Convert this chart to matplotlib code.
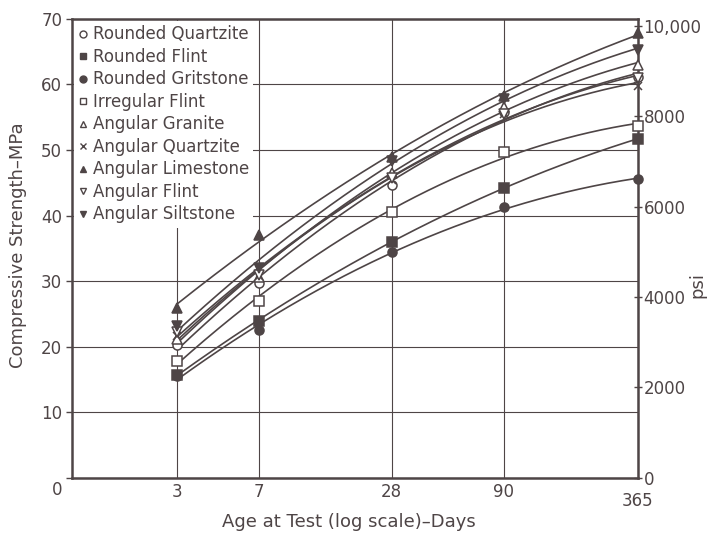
import numpy as np
import matplotlib
matplotlib.use('Agg')
from matplotlib import pyplot
from matplotlib.lines import Line2D

# age at test, days
days = [3, 7, 28, 90, 365]

# compressive strength, MPa
rounded_quartzite = [20.2, 29.7, 44.7, 55.8, 61.2]
rounded_flint = [15.7, 24.0, 36.0, 44.2, 51.7]
rounded_gritstone = [15.5, 22.5, 34.5, 41.3, 45.5]
irregular_flint = [17.9, 26.9, 40.6, 49.7, 53.7]
angular_granite = [21.2, 30.6, 46.5, 56.6, 63.0]
angular_quartzite = [21.7, 30.8, 45.4, 55.5, 59.8]
angular_limestone = [25.9, 37.1, 49.0, 58.3, 67.8]
angular_flint = [22.2, 31.0, 45.8, 55.5, 61.0]
angular_siltstone = [23.1, 32.0, 48.3, 57.8, 65.3]

names = ['Rounded Quartzite', 'Rounded Flint', 'Rounded Gritstone', 'Irregular Flint',
         'Angular Granite', 'Angular Quartzite', 'Angular Limestone', 'Angular Flint',
         'Angular Siltstone']
series = [rounded_quartzite, rounded_flint, rounded_gritstone, irregular_flint,
          angular_granite, angular_quartzite, angular_limestone, angular_flint,
          angular_siltstone]
# (marker, filled)
styles = [('o', False), ('s', True), ('o', True), ('s', False), ('^', False),
          ('x', True), ('^', True), ('v', False), ('v', True)]

x_ticks = [3, 7, 28, 90, 365]
y_ticks = [0, 10, 20, 30, 40, 50, 60, 70]
psi_ticks = [0, 2000, 4000, 6000, 8000, 10000]
psi_labels = ['0', '2000', '4000', '6000', '8000', '10,000']

ink = '#4e4546'
pyplot.rcParams['font.family'] = ['DejaVu Sans']

fig = pyplot.figure(figsize=(7.12, 5.37), dpi=100)
ax = fig.add_axes([0.101, 0.110, 0.795, 0.855])
ax.set_xscale('log')
ax.set_xlim(1, 365)
ax.set_ylim(0, 70)

# smooth trend curve + points for each aggregate
logd = np.log10(days)
xs = np.logspace(np.log10(days[0]), np.log10(days[-1]), 200)
handles = []
for name, vals, (m, filled) in zip(names, series, styles):
    c = np.polyfit(logd, vals, 2)
    ax.plot(xs, np.polyval(c, np.log10(xs)), color=ink, lw=1.2, zorder=3)
    fc = ink if filled else 'white'
    ms = 6.5 if m != 'x' else 6
    ax.plot(days, vals, ls='none', marker=m, ms=ms, mfc=fc, mec=ink, mew=1.1,
            color=ink, zorder=4, clip_on=False)
    handles.append(Line2D([], [], ls='none', marker=m, ms=5, mfc=fc, mec=ink,
                          mew=1, color=ink, label=name))

ax.set_xticks(x_ticks)
ax.set_xticklabels([str(d) for d in x_ticks])
ax.xaxis.set_minor_locator(matplotlib.ticker.NullLocator())
ax.set_yticks(y_ticks)
ax.set_yticklabels([''] + [str(v) for v in y_ticks[1:]])
ax.grid(True, color=ink, lw=0.8, zorder=1)
ax.tick_params(axis='x', length=0, pad=4, labelsize=12, colors=ink)
ax.tick_params(axis='y', length=4, width=1, pad=3, labelsize=12, colors=ink)
ax.xaxis.get_major_ticks()[-1].set_pad(10)
for s in ax.spines.values():
    s.set_color(ink)
    s.set_linewidth(1.8)
ax.annotate('0', xy=(0, 0), xycoords='axes fraction', xytext=(-11, -9),
            textcoords='offset points', ha='center', va='center', fontsize=12, color=ink)

ax.set_xlabel('Age at Test (log scale)–Days', fontsize=13, color=ink, va='center')
ax.xaxis.set_label_coords(0.49, -0.096)
ax.set_ylabel('Compressive Strength–MPa', fontsize=13, color=ink, va='center')
ax.yaxis.set_label_coords(-0.095, 0.508)

ax2 = ax.twinx()
ax2.set_ylim(0, 70 * 145.0377)
ax2.set_yticks(psi_ticks)
ax2.set_yticklabels(psi_labels)
ax2.tick_params(axis='y', direction='inout', length=6, width=1, pad=1, labelsize=12, colors=ink)
for s in ax2.spines.values():
    s.set_visible(False)
ax2.set_ylabel('psi', fontsize=13, color=ink, va='center')
ax2.yaxis.set_label_coords(1.105, 0.42)

leg = ax.legend(handles=handles, loc='upper left', fontsize=12, frameon=True,
                facecolor='white', edgecolor='none', framealpha=1, fancybox=False,
                handlelength=0.5, handletextpad=0.35, labelspacing=0.27,
                borderpad=0.25, borderaxespad=0.15, labelcolor=ink)
leg.set_zorder(5)

fig.savefig('out.png', dpi=100)
